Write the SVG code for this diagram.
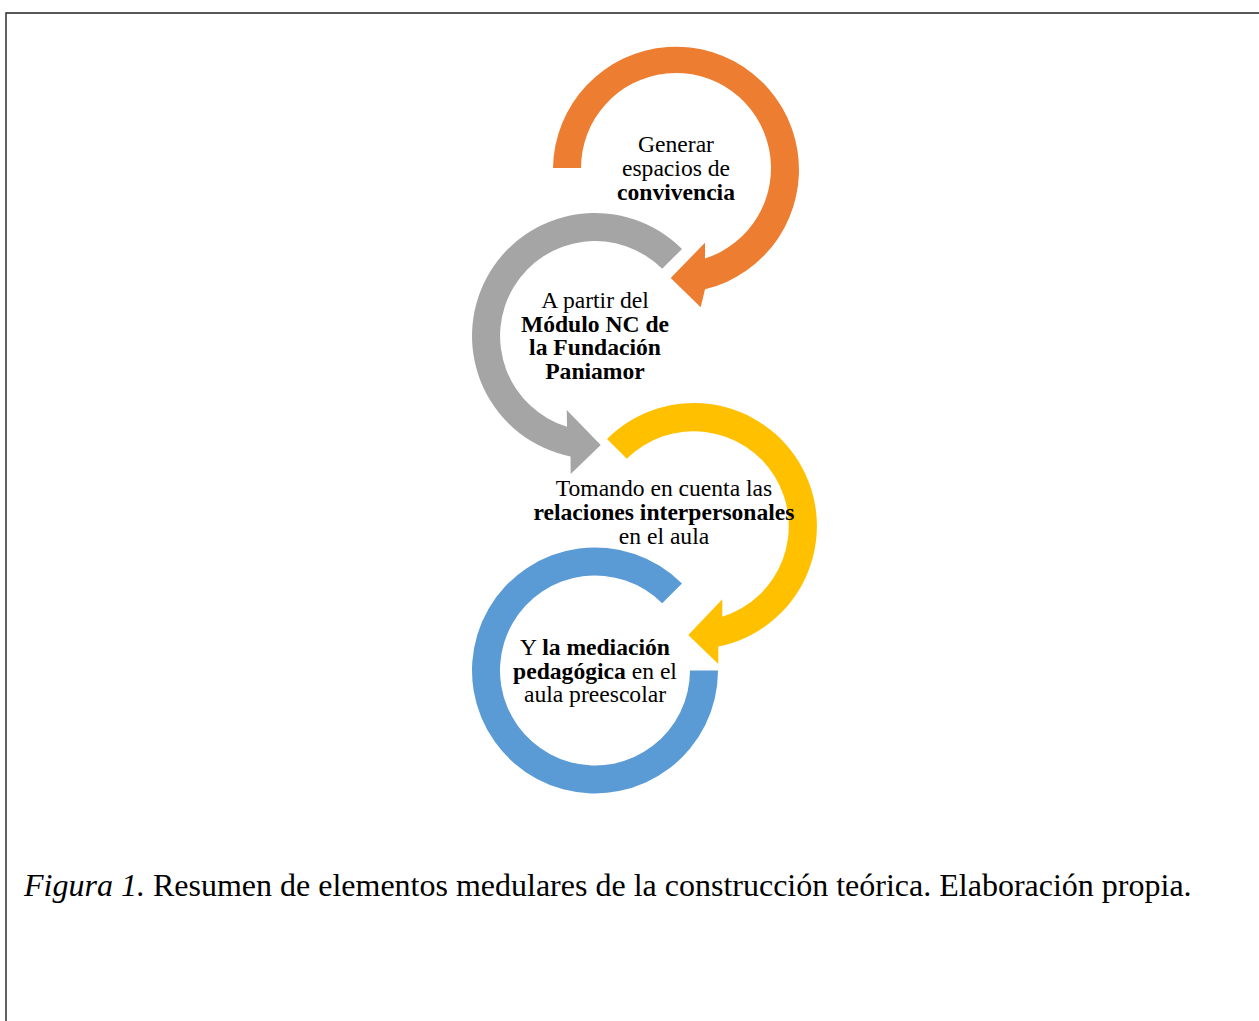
<svg xmlns="http://www.w3.org/2000/svg" width="1259" height="1021" viewBox="0 0 1259 1021">
<style>
  .lbl { font-family: "Liberation Serif", "Times New Roman", serif; font-size: 23.6px; fill: #000; text-anchor: middle; }
  .b { font-weight: bold; }
  .cap { font-family: "Liberation Serif", "Times New Roman", serif; font-size: 32px; fill: #000; }
  .orange { fill: #ED7D31; }
  .gray { fill: #A5A5A5; }
  .yellow { fill: #FFC000; }
  .blue { fill: #5B9BD5; }
</style>
<rect x="0" y="0" width="1259" height="1021" fill="#ffffff"/>
<path d="M 6 1021 L 6 13 L 1259 13" fill="none" stroke="#222" stroke-width="1.4"/>

<g id="node-blue">
  <path class="blue" d="M 682 583.5 A 123 123 0 1 0 718 670.5 L 690 670.5 A 95 95 0 1 1 662.2 603.3 Z"/>
  <text class="lbl" x="595" y="655"><tspan>Y </tspan><tspan class="b">la mediación</tspan></text>
  <text class="lbl" x="595" y="679"><tspan class="b">pedagógica</tspan><tspan> en el</tspan></text>
  <text class="lbl" x="595" y="702">aula preescolar</text>
</g>

<g id="node-yellow">
  <path class="yellow" d="M 607 439 A 123 123 0 1 1 718.3 646.6 L 718.3 664 L 688.3 635 L 722.3 599.3 L 722.3 616.8 A 95 95 0 1 0 626.8 458.8 Z"/>
  <text class="lbl" x="664" y="496">Tomando en cuenta las</text>
  <text class="lbl b" x="664" y="520">relaciones interpersonales</text>
  <text class="lbl" x="664" y="544">en el aula</text>
</g>

<g id="node-gray">
  <path class="gray" d="M 682 249 A 123 123 0 1 0 570.5 456.5 L 570.7 474 L 600.7 445 L 566.7 410 L 567 426.8 A 95 95 0 1 1 662.2 268.8 Z"/>
  <text class="lbl" x="595" y="308">A partir del</text>
  <text class="lbl b" x="595" y="331.5">Módulo NC de</text>
  <text class="lbl b" x="595" y="355">la Fundación</text>
  <text class="lbl b" x="595" y="378.5">Paniamor</text>
</g>

<g id="node-orange">
  <path class="orange" d="M 553 168 A 123 123 0 1 1 705 289.3 L 700.7 307.3 L 670.7 278 L 705 242.7 L 705 258.5 A 95 95 0 1 0 581 168 Z"/>
  <text class="lbl" x="676" y="151.7">Generar</text>
  <text class="lbl" x="676" y="176.3">espacios de</text>
  <text class="lbl b" x="676" y="200">convivencia</text>
</g>

<g id="connectors"></g>

<g id="caption">
  <text class="cap" x="24" y="896"><tspan font-style="italic">Figura 1.</tspan><tspan> Resumen de elementos medulares de la construcción teórica. Elaboración propia.</tspan></text>
</g>
</svg>
